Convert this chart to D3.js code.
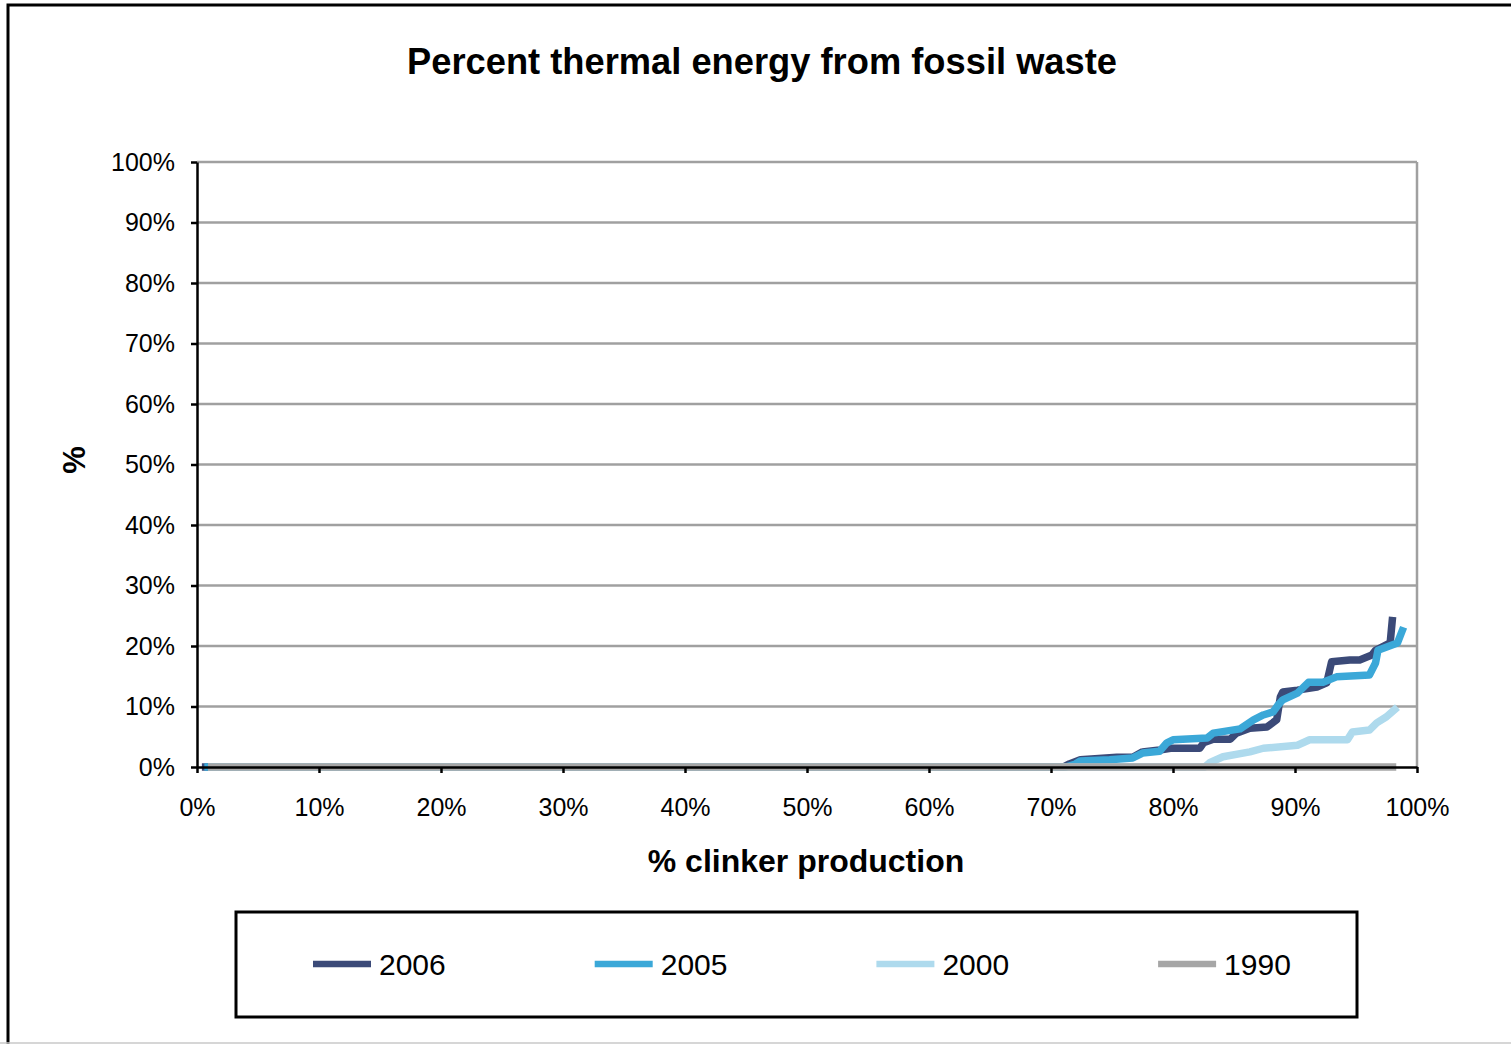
<!DOCTYPE html>
<html>
<head>
<meta charset="utf-8">
<script src="https://cdn.jsdelivr.net/npm/d3@7"></script>
<style>
body { margin: 0; background: #ffffff; }
</style>
</head>
<body>
<div id="canvas"></div>
<script>
"use strict"

/* Data: x = % clinker production, y = % thermal energy from fossil waste */
let seriesNames = ["2006", "2005", "2000", "1990"];

let x2006 = [0.4, 71.0, 71.5, 72.4, 75.4, 76.7, 77.5, 78.9, 79.8, 82.2, 82.5, 83.3, 84.7, 85.2, 86.3, 87.7, 88.5, 88.8, 89.0, 90.2, 91.8, 92.6, 93.0, 94.5, 95.3, 96.3, 96.6, 97.8, 98.0];
let y2006 = [0, 0, 0.5, 1.2, 1.6, 1.6, 2.5, 2.8, 3.1, 3.1, 4.0, 4.6, 4.6, 5.6, 6.4, 6.6, 7.8, 11.6, 12.4, 12.7, 13.2, 13.9, 17.4, 17.7, 17.7, 18.5, 19.3, 20.5, 24.8];

let x2005 = [0.6, 71.2, 72.0, 72.4, 74.8, 76.7, 77.5, 78.9, 79.5, 80.0, 82.8, 83.3, 85.5, 86.6, 87.4, 88.2, 88.6, 89.0, 90.2, 91.1, 92.3, 93.4, 96.1, 96.6, 96.8, 98.4, 98.9];
let y2005 = [0, 0, 0.5, 1.0, 1.2, 1.5, 2.3, 2.6, 4.0, 4.5, 4.8, 5.6, 6.3, 7.8, 8.6, 9.1, 10.2, 11.1, 12.2, 14.0, 14.0, 14.9, 15.2, 17.2, 19.3, 20.5, 23.1];

let x2000 = [0.9, 82.6, 83.0, 84.1, 86.3, 87.4, 90.2, 91.2, 94.3, 94.7, 96.1, 96.7, 97.5, 98.4];
let y2000 = [0, 0, 0.7, 1.7, 2.5, 3.1, 3.6, 4.5, 4.5, 5.8, 6.1, 7.3, 8.3, 9.9];

let x1990 = [0.9, 98.3];
let y1990 = [0, 0];

let xTicks = [0, 10, 20, 30, 40, 50, 60, 70, 80, 90, 100];
let yTicks = [0, 10, 20, 30, 40, 50, 60, 70, 80, 90, 100];

let seriesColors = ["#3B4A78", "#3BA8D8", "#AEDAED", "#A6A6A6"];
let fontFamily = "'Liberation Sans', Arial, sans-serif";

/* SVG canvas */
let drawing = d3.select("#canvas")
    .append("svg")
    .attr("width", 1511)
    .attr("height", 1044);

/* Outer chart frame (right side runs off the page) */
let frame = drawing.append("rect")
    .attr("x", 8)
    .attr("y", 5)
    .attr("width", 1600)
    .attr("height", 1100)
    .attr("fill", "none")
    .attr("stroke", "black")
    .attr("stroke-width", 3);

let frameBottom = drawing.append("line")
    .attr("x1", 0)
    .attr("x2", 1511)
    .attr("y1", 1043)
    .attr("y2", 1043)
    .attr("stroke", "#C8C8C8")
    .attr("stroke-width", 1.5);

/* Scales */
let xScale = d3.scaleLinear().domain([0, 100]).range([197, 1417]);
let yScale = d3.scaleLinear().domain([0, 100]).range([767, 162]);

/* Title */
let title = drawing.append("text")
    .attr("x", 762)
    .attr("y", 74)
    .attr("text-anchor", "middle")
    .attr("font-family", fontFamily)
    .attr("font-weight", "bold")
    .attr("font-size", 36)
    .attr("textLength", 710)
    .attr("lengthAdjust", "spacingAndGlyphs")
    .text("Percent thermal energy from fossil waste");

/* Horizontal gridlines */
let gridLines = drawing.append("g")
    .selectAll("line")
    .data(yTicks.filter(d => d > 0))
    .join("line")
    .attr("x1", xScale(0))
    .attr("x2", xScale(100))
    .attr("y1", d => yScale(d))
    .attr("y2", d => yScale(d))
    .attr("stroke", "#A0A0A0")
    .attr("stroke-width", 2.5);

/* Right edge of plot area */
let plotRight = drawing.append("line")
    .attr("x1", xScale(100))
    .attr("x2", xScale(100))
    .attr("y1", yScale(100))
    .attr("y2", yScale(0))
    .attr("stroke", "#A0A0A0")
    .attr("stroke-width", 2.5);

/* Series lines */
let seriesX = [x2006, x2005, x2000, x1990];
let seriesY = [y2006, y2005, y2000, y1990];

let lineMaker = d3.line()
    .x(d => xScale(d[0]))
    .y(d => yScale(d[1]));

seriesNames.forEach(function (name, i) {
    let points = seriesX[i].map((v, j) => [v, seriesY[i][j]]);
    drawing.append("path")
        .datum(points)
        .attr("d", lineMaker)
        .attr("fill", "none")
        .attr("stroke", seriesColors[i])
        .attr("stroke-width", 7.5)
        .attr("stroke-linejoin", "round");
});

/* Axes */
let yAxis = drawing.append("g")
    .attr("transform", "translate(" + xScale(0) + ",0)")
    .call(d3.axisLeft(yScale)
        .tickValues(yTicks)
        .tickSize(6)
        .tickSizeOuter(0)
        .tickPadding(16)
        .tickFormat(d => d + "%"));

let xAxis = drawing.append("g")
    .attr("transform", "translate(0," + yScale(0) + ")")
    .call(d3.axisBottom(xScale)
        .tickValues(xTicks)
        .tickSize(6)
        .tickSizeOuter(0)
        .tickPadding(25)
        .tickFormat(d => d + "%"));

[yAxis, xAxis].forEach(function (axis) {
    axis.selectAll("path, line")
        .attr("stroke", "black")
        .attr("stroke-width", 2.5);
    axis.selectAll("text")
        .attr("fill", "black")
        .attr("font-family", fontFamily)
        .attr("font-size", 25);
});

/* Axis titles */
let xTitle = drawing.append("text")
    .attr("x", 806)
    .attr("y", 872)
    .attr("text-anchor", "middle")
    .attr("font-family", fontFamily)
    .attr("font-weight", "bold")
    .attr("font-size", 32)
    .text("% clinker production");

let yTitle = drawing.append("text")
    .attr("transform", "translate(85,460) rotate(-90)")
    .attr("text-anchor", "middle")
    .attr("font-family", fontFamily)
    .attr("font-weight", "bold")
    .attr("font-size", 31)
    .text("%");

/* Legend */
let legendBox = drawing.append("rect")
    .attr("x", 236)
    .attr("y", 912)
    .attr("width", 1121)
    .attr("height", 105)
    .attr("fill", "none")
    .attr("stroke", "black")
    .attr("stroke-width", 3);

let legendItems = drawing.append("g")
    .selectAll("g")
    .data(seriesNames)
    .join("g")
    .attr("transform", (d, i) => "translate(" + (313 + i * 281.7) + ",964)");

legendItems.append("line")
    .attr("x1", 0)
    .attr("x2", 58)
    .attr("y1", 0)
    .attr("y2", 0)
    .attr("stroke", (d, i) => seriesColors[i])
    .attr("stroke-width", 6.5);

legendItems.append("text")
    .attr("x", 66)
    .attr("y", 11)
    .attr("font-family", fontFamily)
    .attr("font-size", 30)
    .text(d => d);
</script>
</body>
</html>
